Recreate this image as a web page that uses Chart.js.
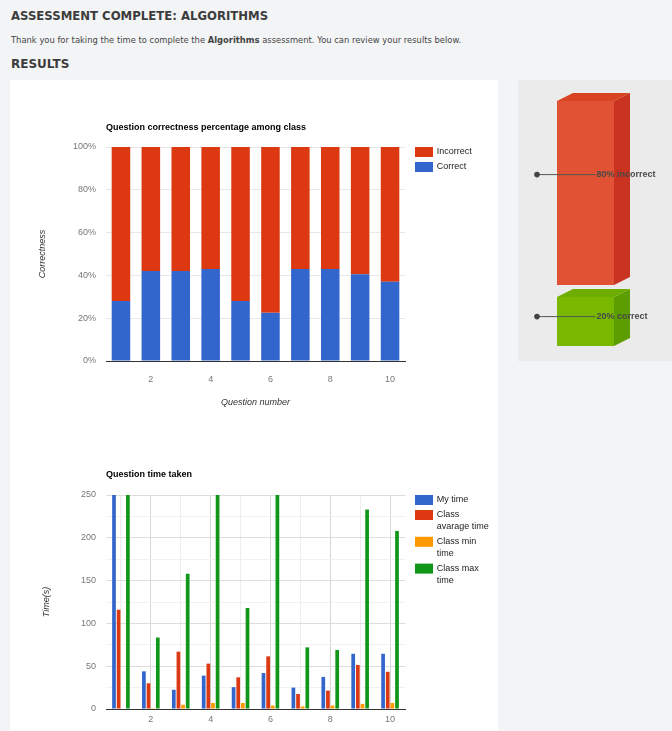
<!DOCTYPE html>
<html><head><meta charset="utf-8">
<script src="https://cdn.jsdelivr.net/npm/chart.js@4.4.0/dist/chart.umd.min.js"></script>
<style>
html,body{margin:0;padding:0;}
body{width:672px;height:731px;overflow:hidden;background:#f3f4f6;position:relative;font-family:"DejaVu Sans",Verdana,sans-serif;}
.abs{position:absolute;white-space:nowrap;line-height:1;}
#h1{left:11px;top:11px;font-size:11.7px;font-weight:bold;color:#3c3c3c;}
#intro{left:11px;top:36px;font-size:8.4px;color:#444;}
#h2{left:11px;top:58px;font-size:12px;font-weight:bold;color:#3c3c3c;}
#panel{left:10px;top:80px;width:488px;height:700px;background:#fff;}
#side{left:518px;top:80px;width:154px;height:281px;background:#ebebeb;}
canvas{position:absolute;}
#c1{left:0;top:80px;}
#c2{left:0;top:440px;}
#c3{left:518px;top:80px;}
</style></head>
<body>
<div id="h1" class="abs">ASSESSMENT COMPLETE: ALGORITHMS</div>
<div id="intro" class="abs">Thank you for taking the time to complete the <b>Algorithms</b> assessment. You can review your results below.</div>
<div id="h2" class="abs">RESULTS</div>
<div id="panel" class="abs"></div>
<div id="side" class="abs"></div>
<canvas id="c1" width="498" height="341"></canvas>
<canvas id="c2" width="498" height="329"></canvas>
<canvas id="c3" width="154" height="281"></canvas>
<script>
// ---- data ----
const questions = ['1','2','3','4','5','6','7','8','9','10'];
const correctPct   = [28, 42, 42, 43, 28, 22.5, 43, 43, 40.5, 37];
const incorrectPct = [72, 58, 58, 57, 72, 77.5, 57, 57, 59.5, 63];
const myTime       = [250, 44, 22.5, 39, 25.5, 42, 25, 37.5, 64.5, 64.5];
const classAvgTime = [116, 30, 67, 53, 37, 61.5, 17.5, 21.5, 51.5, 43.5];
const classMinTime = [0, 1, 5, 7, 7, 4, 3, 4, 6, 7];
const classMaxTime = [250, 83.5, 158, 250, 118, 250, 72, 69, 233, 208];
const summaryNames = ['correct', 'incorrect'];
const summaryPct   = [20, 80];

// ---- styles ----
const FONT = '"Liberation Sans", Arial, sans-serif';
Chart.defaults.font.family = FONT;
Chart.defaults.font.size = 9;
Chart.defaults.animation = false;
Chart.defaults.plugins.legend.display = false;
Chart.defaults.plugins.tooltip.enabled = false;
const RED = '#dc3912', BLUE = '#3366cc', ORANGE = '#ff9900', GREEN = '#109618';

function wrapText(ctx, text, maxW) {
  const words = String(text).split(' ');
  const lines = []; let cur = '';
  words.forEach(w => {
    const t = cur ? cur + ' ' + w : w;
    if (cur && ctx.measureText(t).width > maxW) { lines.push(cur); cur = w; } else cur = t;
  });
  if (cur) lines.push(cur);
  return lines;
}

const sideLegend = {
  id: 'sideLegend',
  afterDraw(chart, args, o) {
    if (!o || !o.show) return;
    const ctx = chart.ctx, ca = chart.chartArea;
    const bx = ca.right + 10, tx = bx + 21.7;
    let y = ca.top + 5;
    ctx.save();
    ctx.font = '9px ' + FONT;
    ctx.textBaseline = 'middle'; ctx.textAlign = 'left';
    let ds = chart.data.datasets.slice();
    if (o.reverse) ds.reverse();
    ds.forEach(d => {
      const lines = wrapText(ctx, d.label, 55);
      ctx.fillStyle = d.backgroundColor;
      ctx.fillRect(bx, y - 5, 18, 10);
      ctx.fillStyle = '#222';
      lines.forEach((ln, i) => ctx.fillText(ln, tx, y + i * 11.8));
      y += lines.length * 11.8 + 3.2;
    });
    ctx.restore();
  }
};

function axisTitleY(text, offsetX) {
  return { display: true, text, font: { size: 9, style: 'italic' }, color: '#333', padding: { top: offsetX - 5.4, bottom: 0 } };
}

// ---- chart 1 ----
new Chart(document.getElementById('c1'), {
  type: 'bar',
  data: {
    labels: questions,
    datasets: [
      { label: 'Correct', data: correctPct, backgroundColor: BLUE, categoryPercentage: 0.62, barPercentage: 1 },
      { label: 'Incorrect', data: incorrectPct, backgroundColor: RED, categoryPercentage: 0.62, barPercentage: 1 }
    ]
  },
  options: {
    responsive: false,
    layout: { padding: { left: 0, right: 93, top: 0, bottom: 0 } },
    plugins: {
      title: { display: true, text: 'Question correctness percentage among class', align: 'start', fullSize: false,
        font: { size: 9, weight: 'bold' }, color: '#000', padding: { top: 42.6, bottom: 13.6 } },
      sideLegend: { show: true, reverse: true }
    },
    scales: {
      x: {
        stacked: true,
        grid: { display: false },
        border: { display: true, color: '#333' },
        ticks: { autoSkip: false, maxRotation: 0, padding: 5.3, color: '#777',
          callback: function (v, i) { return i % 2 === 1 ? this.getLabelForValue(v) : ''; } },
        title: { display: true, text: 'Question number', font: { size: 9, style: 'italic' }, color: '#333', padding: { top: 0, bottom: 12.9 } },
        afterFit: s => { s.height = 60; }
      },
      y: {
        stacked: true, min: 0, max: 100,
        grid: { color: '#e8e8e8', drawTicks: false },
        border: { display: false },
        ticks: { stepSize: 20, padding: 10, color: '#777', callback: v => v + '%' },
        title: axisTitleY('Correctness', 42),
        afterFit: s => { s.width = 106; }
      }
    }
  },
  plugins: [sideLegend]
});

// ---- chart 2 ----
new Chart(document.getElementById('c2'), {
  type: 'bar',
  data: {
    labels: questions,
    datasets: [
      { label: 'My time', data: myTime, backgroundColor: BLUE },
      { label: 'Class avarage time', data: classAvgTime, backgroundColor: RED },
      { label: 'Class min time', data: classMinTime, backgroundColor: ORANGE },
      { label: 'Class max time', data: classMaxTime, backgroundColor: GREEN }
    ]
  },
  options: {
    responsive: false,
    datasets: { bar: { categoryPercentage: 0.62, barPercentage: 0.8 } },
    layout: { padding: { left: 0, right: 93, top: 0, bottom: 0 } },
    plugins: {
      title: { display: true, text: 'Question time taken', align: 'start', fullSize: false,
        font: { size: 9, weight: 'bold' }, color: '#000', padding: { top: 29.6, bottom: 14.6 } },
      sideLegend: { show: true, reverse: false }
    },
    scales: {
      x: {
        grid: { display: true, offset: false, drawTicks: false,
          color: c => (c.index % 2 === 1 ? '#d6d6d6' : '#eeeeee') },
        border: { display: true, color: '#333' },
        ticks: { autoSkip: false, maxRotation: 0, padding: 5.3, color: '#777',
          callback: function (v, i) { return i % 2 === 1 ? this.getLabelForValue(v) : ''; } },
        title: { display: true, text: 'Question number', font: { size: 9, style: 'italic' }, color: '#333', padding: { top: 0, bottom: 12.9 } },
        afterFit: s => { s.height = 60; }
      },
      y: {
        min: 0, max: 250,
        grid: { drawTicks: false, color: c => (c.tick && c.tick.value % 50 === 0 ? '#dddddd' : '#f1f1f1') },
        border: { display: false },
        ticks: { stepSize: 25, autoSkip: false, padding: 10, color: '#777', callback: v => (v % 50 === 0 ? v : '') },
        title: axisTitleY('Time(s)', 46),
        afterFit: s => { s.width = 106; }
      }
    }
  },
  plugins: [sideLegend]
});

// ---- chart 3 (3D summary bar) ----
const PANEL_BG = '#ebebeb';
const cube3d = {
  id: 'cube3d',
  afterDatasetsDraw(chart) {
    const ctx = chart.ctx, dx = 16, dy = 8;
    const poly = pts => { ctx.beginPath(); pts.forEach((p, i) => i ? ctx.lineTo(p[0], p[1]) : ctx.moveTo(p[0], p[1])); ctx.closePath(); ctx.fill(); };
    chart.data.datasets.forEach((d, i) => {
      const bar = chart.getDatasetMeta(i).data[0];
      const { x, y, base, width } = bar.getProps(['x', 'y', 'base', 'width'], true);
      const l = x - width / 2, r = x + width / 2, top = Math.min(y, base);
      const bw = (d.borderWidth && d.borderWidth.bottom) || 0;
      const bot = Math.max(y, base) - bw;
      ctx.save();
      ctx.fillStyle = d.sideColor;
      poly([[r, top], [r + dx, top - dy], [r + dx, bot - dy], [r, bot]]);
      ctx.fillStyle = d.topColor;
      poly([[l, top], [l + dx, top - dy], [r + dx, top - dy], [r, top]]);
      ctx.restore();
    });
  },
  afterDraw(chart) {
    const ctx = chart.ctx, ca = chart.chartArea;
    chart.data.datasets.forEach((d, i) => {
      const bar = chart.getDatasetMeta(i).data[0];
      const { x, y, base } = bar.getProps(['x', 'y', 'base'], true);
      const bw = (d.borderWidth && d.borderWidth.bottom) || 0;
      const top = Math.min(y, base), bot = Math.max(y, base) - bw;
      const ly = top + 0.4 * (bot - top);
      const dotX = ca.left - 20, tx = x + 11;
      ctx.save();
      ctx.strokeStyle = '#555'; ctx.lineWidth = 1;
      ctx.beginPath(); ctx.moveTo(dotX, ly); ctx.lineTo(tx - 1, ly); ctx.stroke();
      ctx.fillStyle = '#444';
      ctx.beginPath(); ctx.arc(dotX, ly, 2.8, 0, Math.PI * 2); ctx.fill();
      ctx.font = 'bold 9px ' + FONT;
      ctx.textBaseline = 'middle'; ctx.textAlign = 'left';
      ctx.fillStyle = '#4a4a4a';
      ctx.fillText(d.data[0] + '% ' + d.label, tx, ly);
      ctx.restore();
    });
  }
};

new Chart(document.getElementById('c3'), {
  type: 'bar',
  data: {
    labels: [''],
    datasets: [
      { label: summaryNames[0], data: [summaryPct[0]], backgroundColor: '#78b800', sideColor: '#5c9d00', topColor: '#6cad00',
        borderWidth: 0, categoryPercentage: 1, barPercentage: 1, inflateAmount: 0 },
      { label: summaryNames[1], data: [summaryPct[1]], backgroundColor: '#e05233', sideColor: '#c9331f', topColor: '#d84423',
        borderWidth: { top: 0, left: 0, right: 0, bottom: 12 }, borderSkipped: false, borderColor: PANEL_BG,
        categoryPercentage: 1, barPercentage: 1, inflateAmount: 0 }
    ]
  },
  options: {
    responsive: false,
    layout: { padding: { left: 39, right: 58, top: 21, bottom: 15 } },
    scales: {
      x: { display: false, stacked: true },
      y: { display: false, stacked: true, min: 0, max: 100 }
    }
  },
  plugins: [cube3d]
});
</script>
</body></html>
